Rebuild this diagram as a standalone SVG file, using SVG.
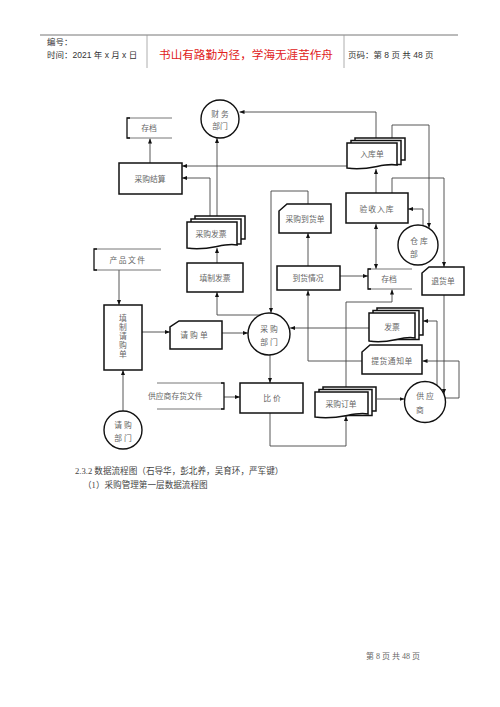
<svg xmlns="http://www.w3.org/2000/svg" width="500" height="707" viewBox="0 0 500 707">
<defs>
<marker id="ah" viewBox="0 0 10 10" refX="10" refY="5" markerWidth="5" markerHeight="5" orient="auto-start-reverse" markerUnits="userSpaceOnUse"><path d="M0,1 L10,5 L0,9 Z" fill="#111"/></marker>
</defs>
<style>
.hd{font-family:"Liberation Sans","Noto Sans CJK SC",sans-serif;font-size:8.5px;fill:#333}
.lb{font-family:"Liberation Serif","Noto Sans CJK SC",serif;font-size:7.8px;fill:#666;text-anchor:middle}
.bx{fill:#fff;stroke:#111;stroke-width:1.5}
.st{fill:none;stroke:#111;stroke-width:1.3}
.st2{fill:none;stroke:#666;stroke-width:0.9}
.ci{fill:#fff;stroke:#111;stroke-width:1.4}
.cn{fill:none;stroke:#444;stroke-width:0.9;marker-end:url(#ah)}
.ft{font-family:"Liberation Serif","Noto Sans CJK SC",serif;font-size:8.6px;fill:#444}
</style>
<rect width="500" height="707" fill="#fff"/>
<g id="header">
<line x1="40" y1="35" x2="458" y2="35" stroke="#777" stroke-width="1"/>
<line x1="147" y1="35" x2="147" y2="68" stroke="#999" stroke-width="0.8"/>
<line x1="344" y1="35" x2="344" y2="68" stroke="#999" stroke-width="0.8"/>
<text class="hd" x="47" y="45">编号：</text>
<text class="hd" x="47" y="58">时间：2021 年 x 月 x 日</text>
<text x="246" y="59" text-anchor="middle" font-family="Liberation Serif,'Noto Sans CJK SC',serif" font-size="11.6" fill="#e02020">书山有路勤为径，学海无涯苦作舟</text>
<text class="hd" x="348" y="58" font-size="8.2">页码：第 8 页  共 48 页</text>
</g>
<g id="connectors">
<path class="cn" d="M150,163 V138.5"/>
<path class="cn" d="M376,140 V112 H239.5"/>
<path class="cn" d="M347,166 H182"/>
<path class="cn" d="M210,217 V178 H182"/>
<path class="cn" d="M217,217 V138"/>
<path class="cn" d="M217,263 V248"/>
<path class="cn" d="M266,315 H217 V292"/>
<path class="cn" d="M308,204 V191 H271 V313"/>
<path class="cn" d="M308,266 V233"/>
<path class="cn" d="M340,276 H368"/>
<path class="cn" d="M376,224 V269" style="marker-start:url(#ah)"/>
<path class="cn" d="M376,193 V169"/>
<path class="cn" d="M392,139 V125 H429 V228"/>
<path class="cn" d="M392,193 V178 H444 V267"/>
<path class="cn" d="M423,226 V209 H408"/>
<path class="cn" d="M444,295 V394"/>
<path class="cn" d="M437,386 V321 H423"/>
<path class="cn" d="M445,398 H459 V361 H422.5"/>
<path class="cn" d="M362,361 H308 V290.5"/>
<path class="cn" d="M369,328 H290"/>
<path class="cn" d="M377,399 H404.5"/>
<path class="cn" d="M270,413 V446 H346 V416"/>
<path class="cn" d="M346,388 V302 H392 V289.5"/>
<path class="cn" d="M270,355 V383"/>
<path class="cn" d="M222,333 H248"/>
<path class="cn" d="M142,332 H170"/>
<path class="cn" d="M119,270 V305"/>
<path class="cn" d="M224,397 H240"/>
<path class="cn" d="M123,411 V370"/>
</g>
<g id="n-archive1">
<path class="st2" d="M172,118 H127 M127,138 H172"/><path class="st" d="M130,118 H127 V138 H130"/>
<text class="lb" x="149" y="131">存档</text>
</g>
<g id="n-finance">
<circle class="ci" cx="220" cy="119" r="19"/>
<text class="lb" x="220" y="117">财 务</text>
<text class="lb" x="220" y="129">部门</text>
</g>
<g id="n-settle">
<rect class="bx" x="119" y="163" width="63" height="31"/>
<text class="lb" x="150" y="182">采购结算</text>
</g>
<g id="n-inbound-doc">
<rect class="bx" x="355" y="138" width="50" height="22"/>
<rect class="bx" x="351" y="140.5" width="50" height="24"/>
<path class="bx" d="M347,143 H397 V165 C382,162 370,172 347,168 Z"/>
<text class="lb" x="372" y="157">入库单</text>
</g>
<g id="n-inspect">
<rect class="bx" x="346" y="193" width="62" height="30"/>
<text class="lb" x="377" y="212" letter-spacing="1">验收入库</text>
</g>
<g id="n-warehouse">
<circle class="ci" cx="418" cy="245" r="20"/>
<text class="lb" x="419" y="244">仓 库</text>
<text class="lb" x="414" y="257">部</text>
</g>
<g id="n-arrival-doc">
<path class="bx" d="M287,204 H331 V233 H279 V211 Z"/>
<text class="lb" x="305" y="222">采购到货单</text>
</g>
<g id="n-arrival">
<rect class="bx" x="277" y="266" width="63" height="24"/>
<text class="lb" x="308" y="281">到货情况</text>
</g>
<g id="n-archive2">
<path class="st2" d="M412,269 H368 M368,289 H412"/><path class="st" d="M371,269 H368 V289 H371"/>
<text class="lb" x="389" y="282">存档</text>
</g>
<g id="n-return">
<path class="bx" d="M429,267 H464 V295 H422 V273 Z"/>
<text class="lb" x="443" y="284">退货单</text>
</g>
<g id="n-invoice-doc">
<rect class="bx" x="195" y="216" width="50" height="23"/>
<rect class="bx" x="191" y="219" width="50" height="25"/>
<path class="bx" d="M187,222 H237 V245 C222,242 210,252 187,248 Z"/>
<text class="lb" x="211" y="237">采购发票</text>
</g>
<g id="n-make-invoice">
<rect class="bx" x="187" y="263" width="56" height="29"/>
<text class="lb" x="215" y="281">填制发票</text>
</g>
<g id="n-product-file">
<path class="st2" d="M94,249 H161 M94,270 H161"/><path class="st" d="M97,249 H94 V270 H97"/>
<text class="lb" x="128" y="263" font-size="8.5" letter-spacing="1.5">产品文件</text>
</g>
<g id="n-fill-req">
<rect class="bx" x="104" y="305" width="38" height="65"/>
<text class="lb" x="123" y="321">填</text>
<text class="lb" x="123" y="330">制</text>
<text class="lb" x="123" y="339">请</text>
<text class="lb" x="123" y="348">购</text>
<text class="lb" x="123" y="357">单</text>
</g>
<g id="n-req-doc">
<path class="bx" d="M179,321 H222 V349 H170 V327 Z"/>
<text class="lb" x="195" y="338" letter-spacing="2">请购单</text>
</g>
<g id="n-purchase">
<circle class="ci" cx="269" cy="334" r="21"/>
<text class="lb" x="269" y="332">采 购</text>
<text class="lb" x="269" y="345">部 门</text>
</g>
<g id="n-invoice">
<rect class="bx" x="377" y="308" width="46" height="27"/>
<rect class="bx" x="373" y="310.5" width="46" height="29"/>
<path class="bx" d="M369,313 H415 V338 C401,335 390,345 369,341 Z"/>
<text class="lb" x="392" y="330" font-size="9">发票</text>
</g>
<g id="n-pickup">
<path class="bx" d="M370,345 H422 V374 H362 V352 Z"/>
<text class="lb" x="392" y="364" letter-spacing="0.5">提货通知单</text>
</g>
<g id="n-supplier-file">
<path class="st2" d="M157,383 H224 M157,409 H224"/><path class="st" d="M221,383 H224 V409 H221"/>
<text class="lb" x="148" y="399" font-size="8.6" style="text-anchor:start">供应商存货文件</text>
</g>
<g id="n-compare">
<rect class="bx" x="240" y="383" width="63" height="30"/>
<text class="lb" x="272" y="401">比  价</text>
</g>
<g id="n-order">
<rect class="bx" x="323" y="387" width="53" height="24"/>
<rect class="bx" x="319" y="389.5" width="53" height="26"/>
<path class="bx" d="M315,392 H368 V414 C352,411 340,421 315,417 Z"/>
<text class="lb" x="341" y="407">采购订单</text>
</g>
<g id="n-supplier">
<circle class="ci" cx="425" cy="402" r="20.5"/>
<text class="lb" x="425" y="399">供 应</text>
<text class="lb" x="420" y="413">商</text>
</g>
<g id="n-requester">
<circle class="ci" cx="123" cy="430" r="19"/>
<text class="lb" x="123" y="428">请 购</text>
<text class="lb" x="123" y="441">部 门</text>
</g>
<g id="caption">
<text class="ft" x="75" y="474">2.3.2 数据流程图（石导华，彭北养，吴育环，严军键）</text>
<text class="ft" x="83" y="488">（1）采购管理第一层数据流程图</text>
</g>
<g id="footer">
<text x="393" y="659" text-anchor="middle" font-family="Liberation Serif,'Noto Sans CJK SC',serif" font-size="8" fill="#666">第 8 页 共 48 页</text>
</g>
</svg>
